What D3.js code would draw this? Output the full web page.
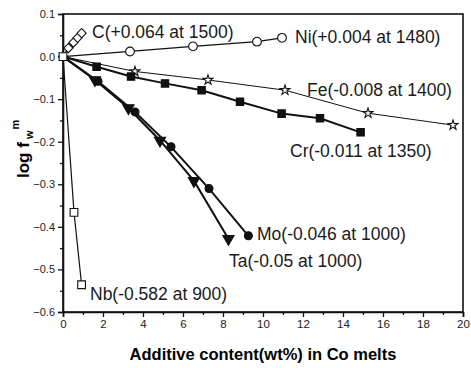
<!DOCTYPE html>
<html>
<head>
<meta charset="utf-8">
<script src="https://cdn.jsdelivr.net/npm/d3@7"></script>
<style>
  body { margin: 0; background: #fff; }
  svg { font-family: "Liberation Sans", Arial, sans-serif; }
</style>
</head>
<body>
<div id="chart"></div>
<script>
// values
const cX  = [0, 0.27, 0.52, 0.73, 0.93];
const cY  = [0, 0.02, 0.033, 0.044, 0.055];
const niX = [0, 3.35, 6.5, 9.7, 10.95];
const niY = [0, 0.012, 0.024, 0.035, 0.044];
const feX = [0, 3.6, 7.25, 11.1, 15.25, 19.5];
const feY = [0, -0.035, -0.055, -0.079, -0.133, -0.161];
const crX = [0, 1.68, 3.4, 5.1, 6.93, 8.85, 10.93, 12.85, 14.88];
const crY = [0, -0.024, -0.047, -0.063, -0.079, -0.106, -0.134, -0.145, -0.178];
const taX = [0, 1.6, 3.27, 4.85, 6.55, 8.27];
const taY = [0, -0.055, -0.121, -0.197, -0.292, -0.428];
const moX = [0, 1.75, 3.6, 5.4, 7.3, 9.27];
const moY = [0, -0.058, -0.13, -0.212, -0.31, -0.421];
const nbX = [0, 0.55, 0.93];
const nbY = [0, -0.366, -0.536];

const labels = ['C(+0.064 at 1500)', 'Ni(+0.004 at 1480)', 'Fe(-0.008 at 1400)',
  'Cr(-0.011 at 1350)', 'Mo(-0.046 at 1000)', 'Ta(-0.05 at 1000)', 'Nb(-0.582 at 900)'];
const xTicks = [0, 2, 4, 6, 8, 10, 12, 14, 16, 18, 20];
const yTicks = [0.1, 0.0, -0.1, -0.2, -0.3, -0.4, -0.5, -0.6];

const width = 471, height = 368;
const margin = {left: 63, right: 6, top: 14, bottom: 56};

const svg = d3.select('#chart').append('svg')
  .attr('width', width)
  .attr('height', height);

const x = d3.scaleLinear().domain([0, 20]).range([margin.left, width - margin.right - 2]);
const y = d3.scaleLinear().domain([-0.6, 0.1]).range([height - margin.bottom, margin.top]);

// frame
svg.append('rect')
  .attr('x', x(0)).attr('y', y(0.1))
  .attr('width', x(20) - x(0)).attr('height', y(-0.6) - y(0.1))
  .attr('fill', 'none').attr('stroke', '#111').attr('stroke-width', 1.6);

// axes
const xAxis = svg.append('g')
  .attr('transform', `translate(0,${y(-0.6)})`)
  .call(d3.axisBottom(x).tickValues(xTicks).tickFormat(d3.format('d')).tickSize(5).tickPadding(3));
svg.append('g')
  .attr('transform', `translate(0,${y(-0.6)})`)
  .call(d3.axisBottom(x).tickValues(d3.range(1, 20, 2)).tickFormat('').tickSize(3))
  .call(g => g.select('.domain').remove());
const yAxis = svg.append('g')
  .attr('transform', `translate(${x(0)},0)`)
  .call(d3.axisLeft(y).tickValues(yTicks).tickFormat(d3.format('.1f')).tickSize(5).tickPadding(3));
svg.append('g')
  .attr('transform', `translate(${x(0)},0)`)
  .call(d3.axisLeft(y).tickValues(d3.range(-0.55, 0.1, 0.1)).tickFormat('').tickSize(3))
  .call(g => g.select('.domain').remove());

svg.selectAll('.domain').attr('stroke', '#111').attr('stroke-width', 1.6);
svg.selectAll('.tick line').attr('stroke', '#111').attr('stroke-width', 1.3);
xAxis.selectAll('text').attr('font-size', 11.5).attr('fill', '#222');
yAxis.selectAll('text').attr('font-size', 11).attr('fill', '#222');

// axis titles
svg.append('text')
  .attr('x', (x(0) + x(20)) / 2).attr('y', 360)
  .attr('text-anchor', 'middle')
  .attr('font-weight', 'bold').attr('font-size', 16.5)
  .text('Additive content(wt%) in Co melts');

const yt = svg.append('text')
  .attr('transform', 'translate(29,178) rotate(-90)')
  .attr('font-weight', 'bold').attr('font-size', 17);
yt.append('tspan').text('log f');
yt.append('tspan').attr('font-size', 11).attr('dx', 3).attr('dy', 4).text('w');
yt.append('tspan').attr('font-size', 11).attr('dx', 1).attr('dy', -14).text('m');

// series
const series = [
  {xs: cX,  ys: cY,  sym: d3.symbolSquare,   fill: 'none', w: 1.2, size: 42, rot: 45,  skip0: false},
  {xs: niX, ys: niY, sym: d3.symbolCircle,   fill: 'none', w: 1.2, size: 60, rot: 0,   skip0: true},
  {xs: feX, ys: feY, sym: d3.symbolStar,     fill: 'none', w: 1.0, size: 30, rot: 0,   skip0: true},
  {xs: crX, ys: crY, sym: d3.symbolSquare,   fill: '#111', w: 2.0, size: 55, rot: 0,   skip0: true},
  {xs: moX, ys: moY, sym: d3.symbolCircle,   fill: '#111', w: 2.0, size: 50, rot: 0,   skip0: true},
  {xs: taX, ys: taY, sym: d3.symbolTriangle, fill: '#111', w: 2.0, size: 55, rot: 180, skip0: true},
  {xs: nbX, ys: nbY, sym: d3.symbolSquare,   fill: 'none', w: 1.2, size: 60, rot: 0,   skip0: false}
];

const line = d3.line().x(d => x(d[0])).y(d => y(d[1]));

series.forEach(s => {
  const pts = s.xs.map((v, i) => [v, s.ys[i]]);
  svg.append('path')
    .datum(pts)
    .attr('d', line)
    .attr('fill', 'none')
    .attr('stroke', '#111')
    .attr('stroke-width', s.w);
  svg.append('g')
    .selectAll('path')
    .data(s.skip0 ? pts.slice(1) : pts)
    .join('path')
      .attr('transform', d => `translate(${x(d[0])},${y(d[1])}) rotate(${s.rot})`)
      .attr('d', d3.symbol(s.sym, s.size))
      .attr('fill', s.fill === 'none' ? '#fff' : s.fill)
      .attr('stroke', '#111')
      .attr('stroke-width', 1.1);
});

// series labels
const labelPos = [[92, 38], [295, 43], [307, 96], [290, 157], [257, 240], [229, 267], [90, 300]];
svg.append('g')
  .selectAll('text')
  .data(labels)
  .join('text')
    .attr('x', (d, i) => labelPos[i][0])
    .attr('y', (d, i) => labelPos[i][1])
    .attr('font-size', 17.5)
    .attr('fill', '#1a1a1a')
    .text(d => d);
</script>
</body>
</html>
